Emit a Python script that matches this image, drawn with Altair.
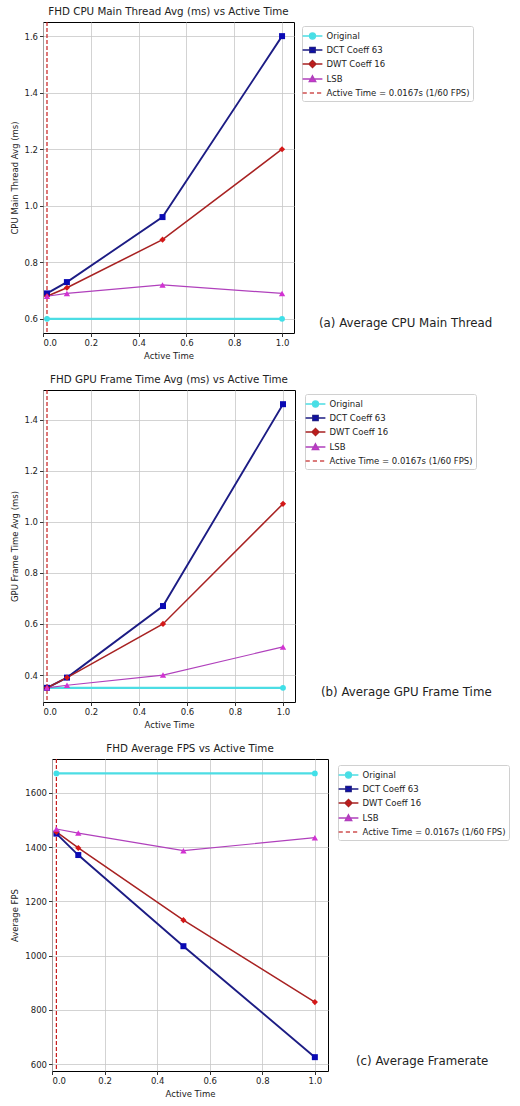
import altair as alt
import pandas as pd

# ---------------- data ----------------
x_vals = [0.0167, 0.1, 0.5, 1.0]
orig_x = [0.0167, 1.0]
active_time = [0.0167]

series = ["Original", "DCT Coeff 63", "DWT Coeff 16", "LSB"]
vline_label = "Active Time = 0.0167s (1/60 FPS)"

cpu_original = [0.60, 0.60]
cpu_dct = [0.69, 0.73, 0.96, 1.60]
cpu_dwt = [0.68, 0.71, 0.88, 1.20]
cpu_lsb = [0.68, 0.69, 0.72, 0.69]

gpu_original = [0.35, 0.35]
gpu_dct = [0.35, 0.39, 0.67, 1.46]
gpu_dwt = [0.35, 0.39, 0.60, 1.07]
gpu_lsb = [0.35, 0.36, 0.40, 0.51]

fps_original = [1672, 1672]
fps_dct = [1450, 1371, 1035, 626]
fps_dwt = [1456, 1397, 1131, 829]
fps_lsb = [1467, 1452, 1387, 1435]

x_ticks = [0.0, 0.2, 0.4, 0.6, 0.8, 1.0]
cpu_ticks = [0.6, 0.8, 1.0, 1.2, 1.4, 1.6]
gpu_ticks = [0.4, 0.6, 0.8, 1.0, 1.2, 1.4]
fps_ticks = [600, 800, 1000, 1200, 1400, 1600]

# ---------------- styles ----------------
FONT = "DejaVu Sans"
line_colors = ["#4cdde4", "#1c1c84", "#a82222", "#b040bc"]
marker_colors = ["#40e0e8", "#0a0ab4", "#d41818", "#d232d2"]
line_widths = [2.2, 1.2, 1.2, 1.2]
shapes = ["circle", "square", "diamond", "triangle-up"]
marker_sizes = [34, 40, 50, 38]
vline_color = "#c81e1e"

legend_labels = series + [vline_label]
legend_fill = marker_colors + ["transparent"]
legend_stroke = line_colors + ["#d05050"]
LINE = "M-1.65,0H1.65"
legend_paths = [
    LINE + "M-0.5,0A0.5,0.5 0 1,0 0.5,0A0.5,0.5 0 1,0 -0.5,0Z",
    LINE + "M-0.45,-0.45H0.45V0.45H-0.45Z",
    LINE + "M-0.6,0L0,-0.6L0.6,0L0,0.6Z",
    LINE + "M0,-0.55L0.55,0.45H-0.55Z",
    "M-1.65,0H-0.95M-0.45,0H0.25M0.75,0H1.45",
]


def spacer():
    return alt.Chart(pd.DataFrame({"a": [0]})).mark_point(opacity=0).encode(
        x=alt.value(0), y=alt.value(0)
    ).properties(width=1, height=1,
                 view=alt.ViewBackground(stroke="transparent", strokeWidth=0))


def make_panel(title, ytitle, ys, ydomain, yticks, yfmt, w, h,
               legend_xy, caption, caption_xy, yextent):
    rows = []
    for s, yv in zip(series, ys):
        xs = orig_x if s == "Original" else x_vals
        for i, (xx, yy) in enumerate(zip(xs, yv)):
            rows.append({"series": s, "x": xx, "y": yy, "i": i})
    df = pd.DataFrame(rows)

    leg_rows = [{"label": s, "x": (orig_x if s == "Original" else x_vals)[0], "y": yv[0]}
                for s, yv in zip(series, ys)]
    leg_rows.append({"label": vline_label, "x": active_time[0], "y": ys[0][0]})
    leg_df = pd.DataFrame(leg_rows)

    xscale = alt.Scale(domain=[0, 1.05], nice=False, zero=False)
    yscale = alt.Scale(domain=ydomain, nice=False, zero=False)
    xaxis = alt.Axis(values=x_ticks, format=".1f", title="Active Time")
    yaxis = alt.Axis(values=yticks, format=yfmt, title=ytitle, titlePadding=0,
                     minExtent=yextent, maxExtent=yextent)

    X = alt.X("x:Q", scale=xscale, axis=xaxis)
    Y = alt.Y("y:Q", scale=yscale, axis=yaxis)

    vline = alt.Chart(pd.DataFrame({"x": active_time})).mark_rule(
        color=vline_color, strokeDash=[4, 2], strokeWidth=1.2
    ).encode(x=alt.X("x:Q", scale=xscale, axis=xaxis))

    lines = alt.Chart(df).mark_line().encode(
        x=X, y=Y,
        color=alt.Color("series:N", scale=alt.Scale(domain=series, range=line_colors), legend=None),
        strokeWidth=alt.StrokeWidth("series:N", scale=alt.Scale(domain=series, range=line_widths), legend=None),
        order="i:Q",
    )

    points = alt.Chart(df).mark_point(filled=True, opacity=1).encode(
        x=X, y=Y,
        fill=alt.Fill("series:N", scale=alt.Scale(domain=series, range=marker_colors), legend=None),
        shape=alt.Shape("series:N", scale=alt.Scale(domain=series, range=shapes), legend=None),
        size=alt.Size("series:N", scale=alt.Scale(domain=series, range=marker_sizes), legend=None),
    )

    leg = alt.Legend(
        title=None, orient="none", legendX=legend_xy[0], legendY=legend_xy[1],
        symbolSize=144, symbolStrokeWidth=1.3, symbolOpacity=1,
        labelFontSize=8.5, labelFont=FONT, labelColor="#222222",
        strokeColor="#d0d0d0", fillColor="white", padding=3, cornerRadius=2,
        rowPadding=1, symbolOffset=0.5, labelOffset=7, labelLimit=400,
    )
    legend_layer = alt.Chart(leg_df).mark_point(filled=True, opacity=0, size=144).encode(
        x=X, y=Y,
        fill=alt.Fill("label:N", scale=alt.Scale(domain=legend_labels, range=legend_fill), legend=leg),
        stroke=alt.Stroke("label:N", scale=alt.Scale(domain=legend_labels, range=legend_stroke), legend=leg),
        shape=alt.Shape("label:N", scale=alt.Scale(domain=legend_labels, range=legend_paths), legend=leg),
    )

    cap = alt.Chart(pd.DataFrame({"t": [caption]})).mark_text(
        align="left", baseline="middle", fontSize=11.8, font=FONT, color="#222222"
    ).encode(x=alt.value(caption_xy[0]), y=alt.value(caption_xy[1]), text="t:N")

    panel = alt.layer(vline, lines, points, legend_layer, cap).resolve_scale(
        color="independent", fill="independent", stroke="independent",
        shape="independent", size="independent", strokeWidth="independent",
    ).properties(
        width=w, height=h,
        title=alt.TitleParams(title, fontSize=10.3, fontWeight="normal", font=FONT,
                              color="#222222", offset=4),
    )
    # a thin invisible spacer column lets each panel sit by its own axis width
    return alt.hconcat(spacer(), panel, spacing=0)


p1 = make_panel("FHD CPU Main Thread Avg (ms) vs Active Time", "CPU Main Thread Avg (ms)",
                [cpu_original, cpu_dct, cpu_dwt, cpu_lsb], [0.55, 1.65], cpu_ticks, ".1f",
                251, 311, (259, 4), "(a) Average CPU Main Thread", (276, 301), 24)
p2 = make_panel("FHD GPU Frame Time Avg (ms) vs Active Time", "GPU Frame Time Avg (ms)",
                [gpu_original, gpu_dct, gpu_dwt, gpu_lsb], [0.2945, 1.5155], gpu_ticks, ".1f",
                252, 312, (262, 4), "(b) Average GPU Frame Time", (278, 302), 24)
p3 = make_panel("FHD Average FPS vs Active Time", "Average FPS",
                [fps_original, fps_dct, fps_dwt, fps_lsb], [575, 1725], fps_ticks, "d",
                276, 312, (286, 6), "(c) Average Framerate", (304, 302), 33)

chart = alt.vconcat(p1, p2, p3, spacing=14).properties(
    padding={"left": 3, "top": 6, "right": 0, "bottom": 0}
).configure(font=FONT).configure_view(
    stroke="#000000", strokeWidth=1
).configure_axis(
    labelFont=FONT, titleFont=FONT, labelFontSize=8.5, titleFontSize=8.5,
    titleFontWeight="normal", labelColor="#222222", titleColor="#222222",
    domain=False, tickColor="#000000", tickSize=3.5, tickWidth=0.8,
    labelPadding=2,
    gridColor="#c8c8c8", gridWidth=0.8,
)

chart.save("out.html", embed_options={"renderer": "svg", "actions": False})
